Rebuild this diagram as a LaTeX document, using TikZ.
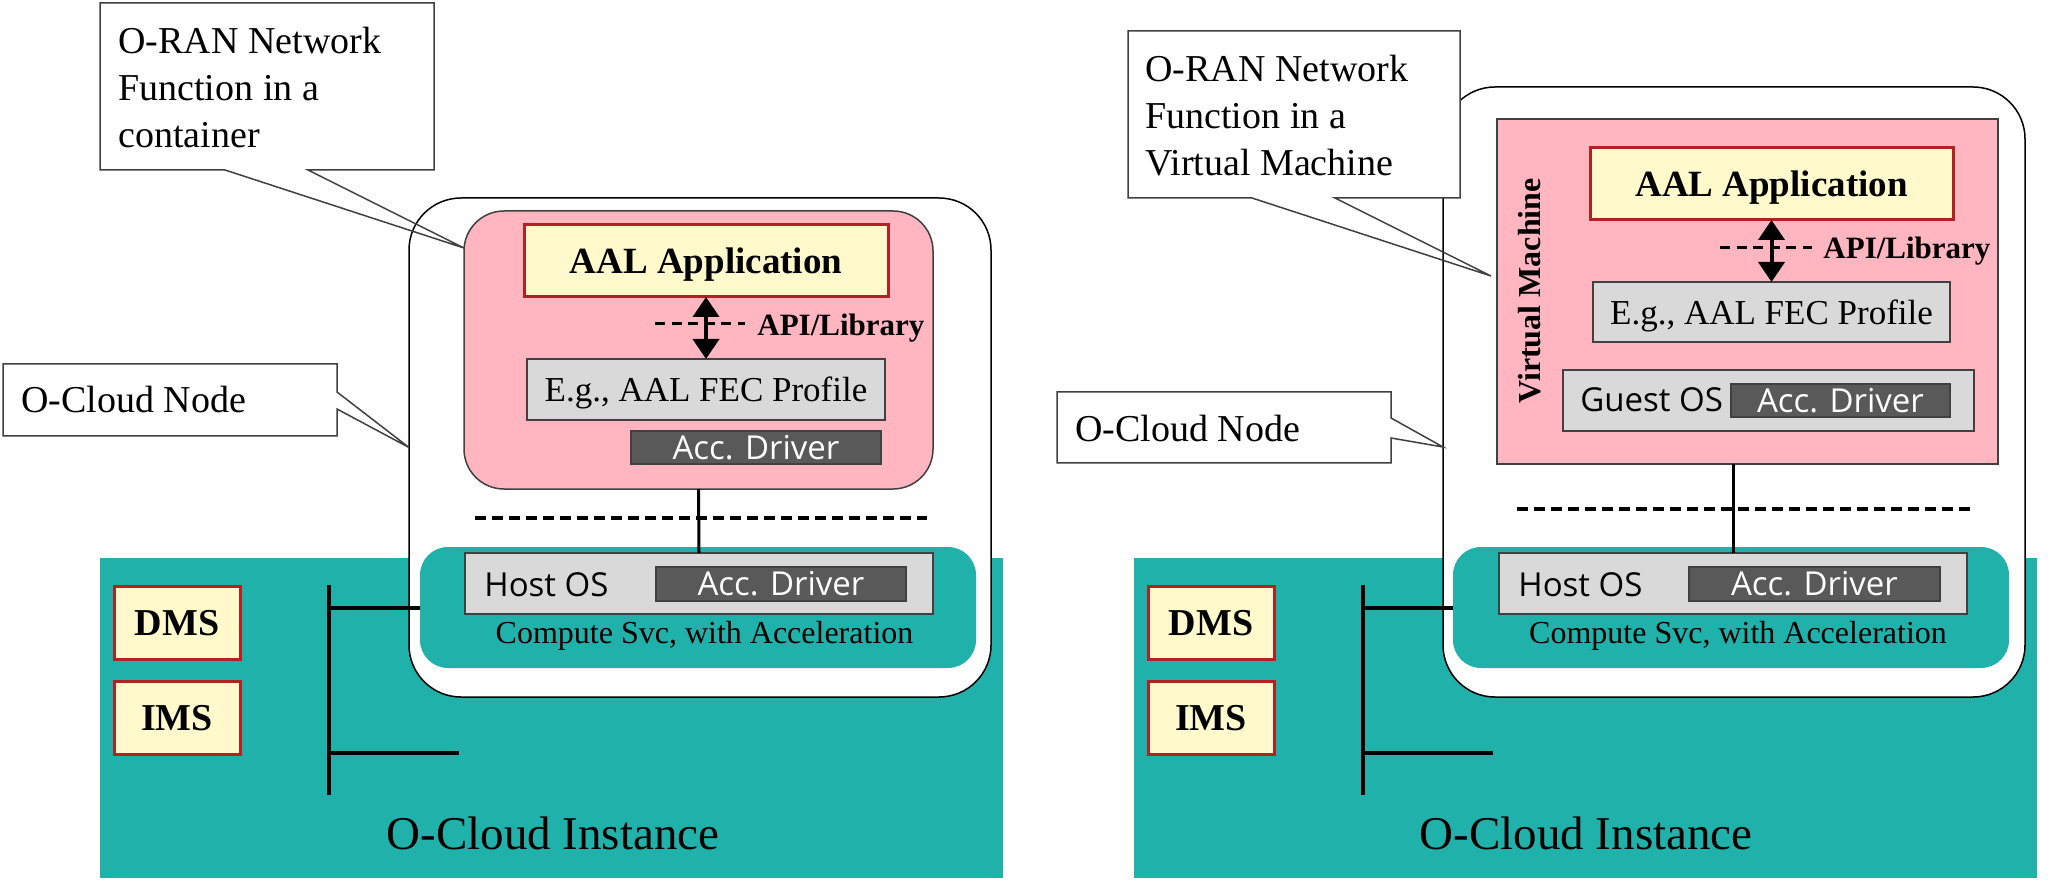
\documentclass[tikz,border=0pt]{standalone}
\usepackage{fontspec}
\setmainfont{Liberation Serif}
\setsansfont{Open Sans}
\usetikzlibrary{arrows.meta,positioning}

\definecolor{oteal}{HTML}{20B2AA}
\definecolor{podpink}{HTML}{FFB6C1}
\definecolor{appyellow}{HTML}{FFF9CC}
\definecolor{appred}{HTML}{B22222}
\definecolor{profgrey}{HTML}{D9D9D9}
\definecolor{drvgrey}{HTML}{595959}
\definecolor{edgegrey}{HTML}{404040}

\tikzset{
  boxframe/.style={draw=edgegrey, line width=0.75pt, inner sep=0pt, outer sep=0pt},
  nodebox/.style={draw=black, line width=0.75pt, fill=white, rounded corners=26pt, inner sep=0pt, outer sep=0pt},
  podbox/.style={boxframe, fill=podpink},
  appbox/.style={draw=appred, line width=1.5pt, fill=appyellow, inner sep=0pt, outer sep=0pt, text depth=0pt, font=\bfseries\fontsize{18.5pt}{22pt}\selectfont},
  mgmtbox/.style={appbox, minimum width=63pt, minimum height=36.5pt, font=\bfseries\fontsize{19pt}{22pt}\selectfont},
  profbox/.style={boxframe, fill=profgrey, text depth=0pt, font=\fontsize{17.5pt}{21pt}\selectfont},
  osbox/.style={boxframe, fill=profgrey},
  drvbox/.style={boxframe, fill=drvgrey, text=white, font=\sffamily\fontsize{16.5pt}{20pt}\selectfont},
  cmpbox/.style={fill=oteal, rounded corners=14pt, inner sep=0pt, outer sep=0pt, minimum width=278pt, minimum height=60.5pt},
  ostext/.style={font=\sffamily\fontsize{16.5pt}{20pt}\selectfont, inner sep=0pt, anchor=base west},
  cmptext/.style={font=\fontsize{16pt}{19pt}\selectfont, inner sep=0pt, anchor=base},
  apitext/.style={font=\bfseries\fontsize{15.5pt}{19pt}\selectfont, inner sep=0pt, anchor=base west},
  insttext/.style={font=\fontsize{23.5pt}{28pt}\selectfont, inner sep=0pt, anchor=base},
  calltext/.style={font=\fontsize{19pt}{23.5pt}\selectfont, inner sep=0pt, align=left},
  callbox/.style={draw=black!75, line width=0.75pt},
  apiarrow/.style={line width=2pt, {Triangle[width=13pt,length=10pt]}-{Triangle[width=13pt,length=10pt]}},
  apidash/.style={line width=1.5pt, dash pattern=on 5pt off 3.3pt},
  sepline/.style={line width=1.75pt, dash pattern=on 5.5pt off 3pt},
  link/.style={line width=1.5pt},
  bus/.style={line width=2pt}
}

\begin{document}
\begin{tikzpicture}[x=0.5pt,y=-0.5pt]
\useasboundingbox (0,0) rectangle (2048,881);

% container case
\fill[oteal] (100,558) rectangle (1003,878);
\node[insttext] (instA) at (553,849) {O-Cloud Instance};
\node[nodebox, minimum width=291pt, minimum height=249.5pt] (cnA) at (700,447.5) {};
\node[podbox, rounded corners=20pt, minimum width=234.5pt, minimum height=139pt] (ctrA) at (698.5,350) {};
\node[appbox, minimum width=182pt, minimum height=36pt] (appA) at (706,261) {AAL Application};
\node[profbox, minimum width=179pt, minimum height=30.5pt] (fecA) at (706,389.5) {E.g., AAL FEC Profile};
\node[drvbox, minimum width=125pt, minimum height=16.5pt] (drvA) at (756,447.5) {Acc. Driver};
\draw[apidash] (655,324) -- (745,324);
\draw[apiarrow] (appA.south) -- (fecA.north);
\node[apitext] (apiA) at (757,336) {API/Library};
\draw[sepline] (475,518) -- (927,518);
\node[cmpbox] (cmpA) at (698,607.5) {};
\node[osbox, minimum width=234pt, minimum height=30.5pt] (hostA) at (699,583.5) {};
\node[ostext] (hostAtxt) at (484,596) {Host OS};
\node[drvbox, minimum width=125pt, minimum height=17pt] (hdrvA) at (781,584) {Acc. Driver};
\node[cmptext] (cmpAtxt) at (704.5,643) {Compute Svc, with Acceleration};
\draw[link] (ctrA.south) -- (hostA.north);
\node[mgmtbox] (dmsA) at (177,622.5) {DMS};
\node[mgmtbox] (imsA) at (177,717.5) {IMS};
\coordinate (busAtop) at (329,585);
\coordinate (busAbot) at (329,795);
\coordinate (stubA) at (459,753);
\draw[bus] (busAtop) -- (busAbot);
\draw[bus] (cmpA.west -| busAtop) -- (cmpA.west);
\draw[bus] (stubA -| busAtop) -- (stubA);
\coordinate (tipA) at (464,248);
\fill[white] (100,3) rectangle (434,170);
\draw[callbox] (100,3) -- (434,3) -- (434,170) -- (308,170) -- (tipA) -- (225,170) -- (100,170) -- cycle;
\node[calltext, anchor=north west] (nfA) at (118,27) {O-RAN Network\\Function in a\\container};
\fill[white] (3,364) rectangle (337,436);
\draw[callbox] (3,364) -- (337,364) -- (337,392) -- (cnA.west) -- (337,409) -- (337,436) -- (3,436) -- cycle;
\node[calltext, anchor=base west] (onA) at (21,413) {O-Cloud Node};

% virtual machine case
\fill[oteal] (1134,558) rectangle (2037,878);
\node[insttext] (instB) at (1586,849) {O-Cloud Instance};
\node[nodebox, minimum width=291pt, minimum height=305pt] (cnB) at (1734,392) {};
\node[podbox, minimum width=250.5pt, minimum height=172.5pt] (vmB) at (1747.5,291.5) {};
\node[font=\bfseries\fontsize{16pt}{19pt}\selectfont, rotate=90, inner sep=0pt] (vmBtxt) at (1530,291) {Virtual Machine};
\node[appbox, minimum width=181.5pt, minimum height=36pt] (appB) at (1771.5,184) {AAL Application};
\node[profbox, minimum width=178.5pt, minimum height=30pt] (fecB) at (1771.5,312) {E.g., AAL FEC Profile};
\draw[apidash] (1720,248) -- (1812,248);
\draw[apiarrow] (appB.south) -- (fecB.north);
\node[apitext] (apiB) at (1823,259) {API/Library};
\node[osbox, minimum width=205.5pt, minimum height=30.5pt] (guestB) at (1768.5,400.5) {};
\node[ostext] (guestBtxt) at (1580,412) {Guest OS};
\node[drvbox, minimum width=109.5pt, minimum height=16.5pt] (gdrvB) at (1840.5,400.5) {Acc. Driver};
\draw[sepline] (1517,509) -- (1970,509);
\node[cmpbox] (cmpB) at (1731,607.5) {};
\node[osbox, minimum width=234pt, minimum height=30.5pt] (hostB) at (1733,583.5) {};
\node[ostext] (hostBtxt) at (1518,596) {Host OS};
\node[drvbox, minimum width=125.5pt, minimum height=17pt] (hdrvB) at (1814.5,584) {Acc. Driver};
\node[cmptext] (cmpBtxt) at (1738,643) {Compute Svc, with Acceleration};
\draw[link] (vmB.south -| hostB.north) -- (hostB.north);
\node[mgmtbox] (dmsB) at (1211,622.5) {DMS};
\node[mgmtbox] (imsB) at (1211,717.5) {IMS};
\coordinate (busBtop) at (1363,585);
\coordinate (busBbot) at (1363,795);
\coordinate (stubB) at (1493,753);
\draw[bus] (busBtop) -- (busBbot);
\draw[bus] (cmpB.west -| busBtop) -- (cmpB.west);
\draw[bus] (stubB -| busBtop) -- (stubB);
\coordinate (tipB) at (1491,276);
\fill[white] (1128,31) rectangle (1460,198);
\draw[callbox] (1128,31) -- (1460,31) -- (1460,198) -- (1335,198) -- (tipB) -- (1252,198) -- (1128,198) -- cycle;
\node[calltext, anchor=north west] (nfB) at (1145,55) {O-RAN Network\\Function in a\\Virtual Machine};
\coordinate (tipC) at (1443,447);
\fill[white] (1057,392) rectangle (1391,463);
\draw[callbox] (1057,392) -- (1391,392) -- (1391,418) -- (tipC) -- (1391,438) -- (1391,463) -- (1057,463) -- cycle;
\node[calltext, anchor=base west] (onB) at (1075,442) {O-Cloud Node};
\end{tikzpicture}
\end{document}
